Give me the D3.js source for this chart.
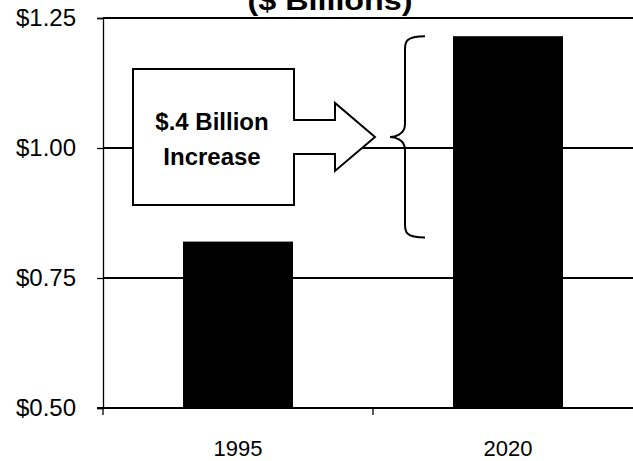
<!DOCTYPE html>
<html>
<head>
<meta charset="utf-8">
<script src="https://cdn.jsdelivr.net/npm/d3@7/dist/d3.min.js"></script>
<style>
  html, body { margin: 0; padding: 0; background: #fff; }
  svg { display: block; }
  text { font-family: "Liberation Sans", Arial, sans-serif; fill: #000; }
</style>
</head>
<body>
<svg id="chart" width="633" height="461"></svg>
<script>
// ---- data ----
const categories = ["1995", "2020"];
const values = [0.82, 1.215];
const yTicks = [0.50, 0.75, 1.00, 1.25];
const titleText = "($ Billions)";
const calloutLines = ["$.4 Billion", "Increase"];

// ---- layout ----
const W = 633, H = 461;
const plot = { left: 103, right: 643, top: 18, bottom: 408 };

const svg = d3.select("#chart");

const x = d3.scaleBand()
  .domain(categories)
  .range([plot.left, plot.right])
  .paddingInner(0.5926)
  .paddingOuter(0.2963);

const y = d3.scaleLinear()
  .domain([0.5, 1.25])
  .range([plot.bottom, plot.top]);

// title (mostly clipped at top, as in the reference)
svg.append("text")
  .attr("x", 330).attr("y", 10)
  .attr("text-anchor", "middle")
  .attr("font-size", 27).attr("font-weight", "bold")
  .attr("textLength", 165).attr("lengthAdjust", "spacingAndGlyphs")
  .text(titleText);

// gridlines
svg.append("g").selectAll("line")
  .data(yTicks.filter(d => d > 0.5))
  .join("line")
  .attr("x1", plot.left).attr("x2", W)
  .attr("y1", d => y(d)).attr("y2", d => y(d))
  .attr("stroke", "#000").attr("stroke-width", 1.3)
  .attr("shape-rendering", "crispEdges");

// bars
svg.append("g").selectAll("rect")
  .data(categories.map((c, i) => ({ c, v: values[i] })))
  .join("rect")
  .attr("x", d => x(d.c))
  .attr("width", x.bandwidth())
  .attr("y", d => y(d.v))
  .attr("height", d => y(0.5) - y(d.v))
  .attr("fill", "#000");

// y axis
const yAxis = svg.append("g")
  .attr("transform", `translate(${plot.left},0)`)
  .call(d3.axisLeft(y).tickValues(yTicks).tickSize(6).tickPadding(21)
    .tickFormat(d => "$" + d.toFixed(2)));
yAxis.select(".domain").attr("stroke", "#000").attr("stroke-width", 1.3);
yAxis.selectAll(".tick line").attr("stroke", "#000").attr("stroke-width", 1.3);
yAxis.selectAll(".tick text")
  .attr("font-size", 24)
  .attr("font-family", "Liberation Sans, Arial, sans-serif")
  .attr("fill", "#000");

// x axis line + ticks between categories
const xAxisG = svg.append("g");
xAxisG.append("line")
  .attr("x1", plot.left - 6).attr("x2", W)
  .attr("y1", plot.bottom).attr("y2", plot.bottom)
  .attr("stroke", "#000").attr("stroke-width", 2);
const step = x.step();
const boundaries = [plot.left, plot.left + step, plot.left + 2 * step];
xAxisG.selectAll("line.tk")
  .data(boundaries)
  .join("line").attr("class", "tk")
  .attr("x1", d => d).attr("x2", d => d)
  .attr("y1", plot.bottom).attr("y2", plot.bottom + 7)
  .attr("stroke", "#000").attr("stroke-width", 1.3);
xAxisG.selectAll("text")
  .data(categories)
  .join("text")
  .attr("x", d => x(d) + x.bandwidth() / 2)
  .attr("y", 456)
  .attr("text-anchor", "middle")
  .attr("font-size", 22)
  .text(d => d);

// brace spanning from 1995 value to 2020 value
const yTop = y(values[1]);
const yBot = y(values[0]) - 4;
const yMid = (yTop + yBot) / 2;
const bx = 405, bTip = 390, bEnd = 425, r = 13;
const brace = `M${bEnd},${yTop} C${bx},${yTop} ${bx},${yTop + r / 2} ${bx},${yTop + r}
  L${bx},${yMid - r} C${bx},${yMid - 2} ${bTip + 4},${yMid} ${bTip},${yMid}
  C${bTip + 4},${yMid} ${bx},${yMid + 2} ${bx},${yMid + r}
  L${bx},${yBot - r} C${bx},${yBot - r / 2} ${bx},${yBot} ${bEnd},${yBot}`;
svg.append("path")
  .attr("d", brace)
  .attr("fill", "none").attr("stroke", "#000").attr("stroke-width", 2);

// callout arrow box
const bxL = 133, bxR = 294, byT = 69, byB = 205;
const tipX = 375, tipY = yMid;
const shaftT = tipY - 17, shaftB = tipY + 17;
const headX = 335, headT = tipY - 34, headB = tipY + 34;
const callout = [
  [bxL, byT], [bxR, byT], [bxR, shaftT], [headX, shaftT], [headX, headT],
  [tipX, tipY], [headX, headB], [headX, shaftB], [bxR, shaftB], [bxR, byB], [bxL, byB]
];
svg.append("path")
  .attr("d", d3.line()(callout) + "Z")
  .attr("fill", "#fff").attr("stroke", "#000").attr("stroke-width", 2)
  .attr("stroke-linejoin", "miter");

svg.append("g").selectAll("text")
  .data(calloutLines)
  .join("text")
  .attr("x", 212)
  .attr("y", (d, i) => 130 + i * 35)
  .attr("text-anchor", "middle")
  .attr("font-size", 24).attr("font-weight", "bold")
  .text(d => d);
</script>
</body>
</html>
